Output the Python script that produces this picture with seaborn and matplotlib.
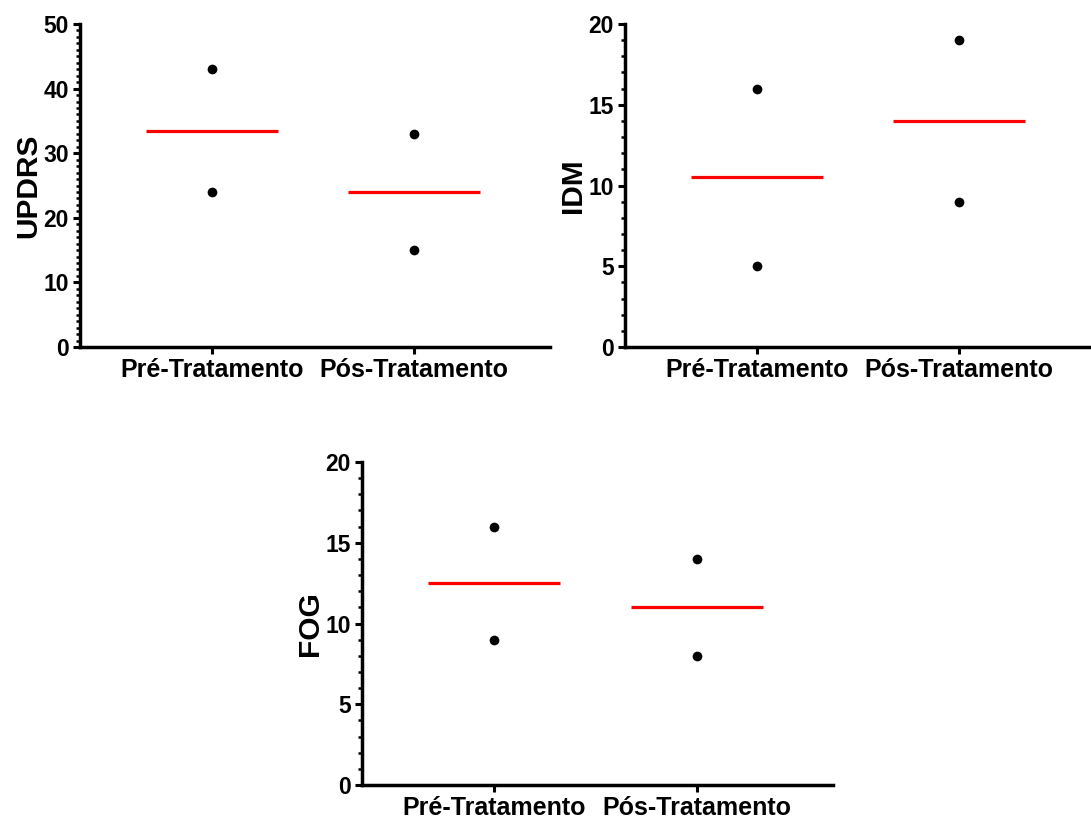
import pandas as pd
import matplotlib
matplotlib.use("Agg")
import matplotlib.pyplot as plt
from matplotlib.ticker import MultipleLocator
import seaborn as sns

# dados (dois pacientes, pré e pós tratamento)
grupos = ["Pré-Tratamento", "Pós-Tratamento"]
updrs_pre = [43, 24]
updrs_pos = [33, 15]
idm_pre = [16, 5]
idm_pos = [19, 9]
fog_pre = [16, 9]
fog_pos = [14, 8]

sns.set_theme(style="ticks")
plt.rcParams["font.family"] = ["Liberation Sans", "DejaVu Sans"]
plt.rcParams["font.weight"] = "bold"
for k in ["text.color", "axes.labelcolor", "xtick.color", "ytick.color", "axes.edgecolor"]:
    plt.rcParams[k] = "black"


def monta_df(pre, pos):
    return pd.DataFrame({
        "grupo": [grupos[0]] * len(pre) + [grupos[1]] * len(pos),
        "valor": pre + pos,
    })


def painel(ax, pre, pos, rotulo, ymax, major):
    df = monta_df(pre, pos)
    sns.stripplot(data=df, x="grupo", y="valor", order=grupos, jitter=False,
                  color="black", size=7, linewidth=0, ax=ax, zorder=3)
    sns.pointplot(data=df, x="grupo", y="valor", order=grupos, estimator="mean",
                  errorbar=None, color="red", markers="_", markersize=95,
                  markeredgewidth=2.3, linestyles="none", ax=ax, zorder=2)
    ax.set_xlim(-0.653, 1.674)
    ax.set_ylim(0, ymax)
    ax.yaxis.set_major_locator(MultipleLocator(major))
    ax.yaxis.set_minor_locator(MultipleLocator(1))
    ax.set_xlabel("")
    ax.set_ylabel(rotulo, fontsize=21.5, fontweight="bold", labelpad=1)
    ax.tick_params(axis="y", which="major", labelsize=16.5, width=2.2,
                   length=5, pad=3)
    ax.tick_params(axis="x", which="major", labelsize=18, width=2.2,
                   length=5, pad=3)
    ax.tick_params(axis="y", which="minor", width=1.8, length=3)
    for t in ax.get_xticklabels() + ax.get_yticklabels():
        t.set_fontweight("bold")
    sns.despine(ax=ax)
    for s in ["left", "bottom"]:
        ax.spines[s].set_linewidth(2.5)


fig = plt.figure(figsize=(10.91, 8.19), dpi=100)
ax1 = fig.add_axes([0.0733, 0.5763, 0.4308, 0.3944])
ax2 = fig.add_axes([0.5729, 0.5763, 0.4308, 0.3944])
ax3 = fig.add_axes([0.3318, 0.0415, 0.4317, 0.3944])

painel(ax1, updrs_pre, updrs_pos, "UPDRS", 50, 10)
painel(ax2, idm_pre, idm_pos, "IDM", 20, 5)
painel(ax3, fog_pre, fog_pos, "FOG", 20, 5)

fig.savefig("out.png", dpi=100)
